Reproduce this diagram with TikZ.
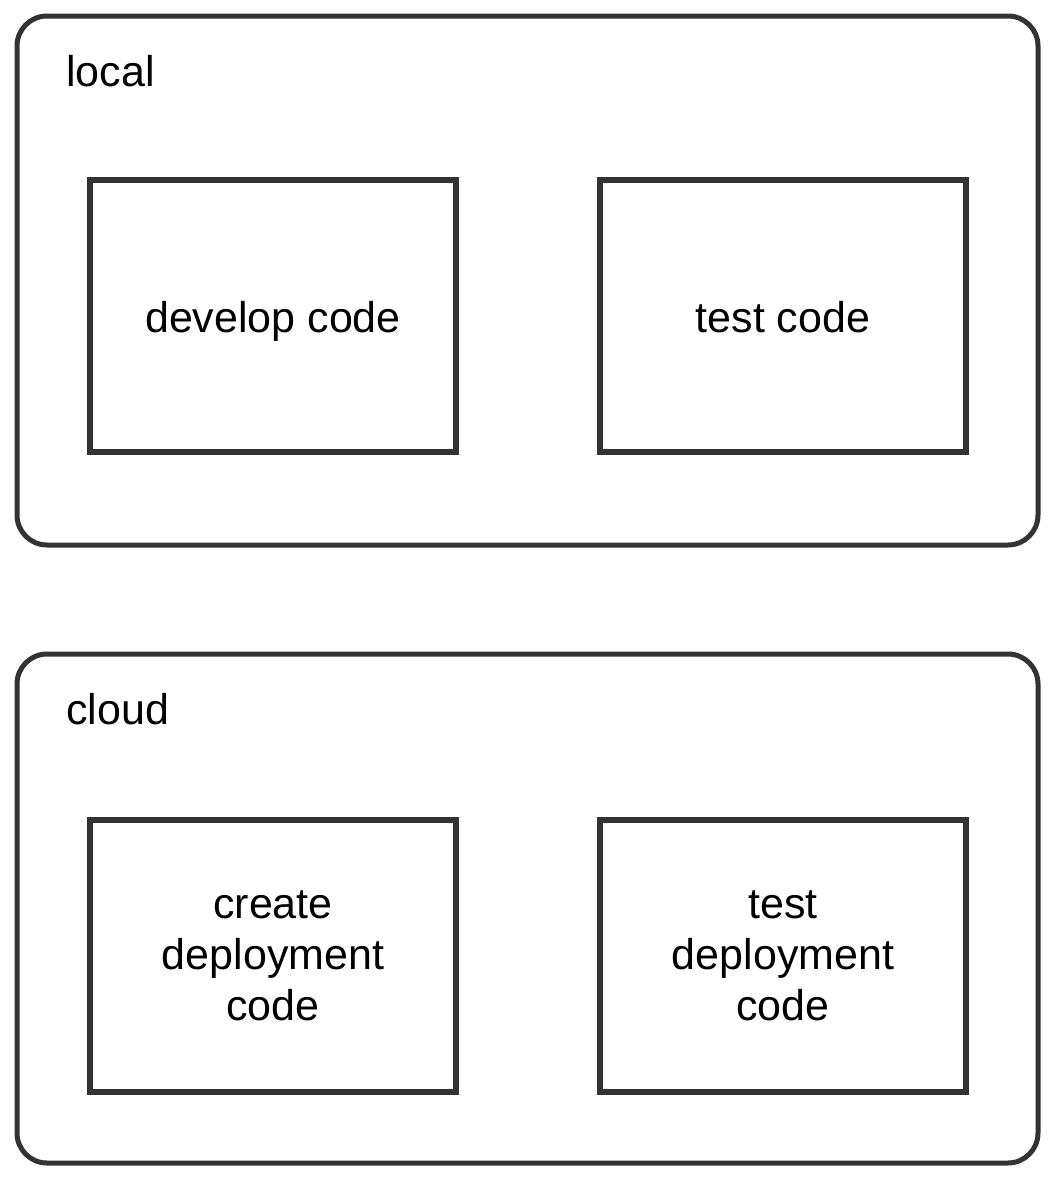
\documentclass[tikz,border=0pt]{standalone}
\usepackage{fontspec}
\setmainfont{Liberation Sans}
\usepackage{tikz}
\usetikzlibrary{positioning}
\definecolor{linegray}{HTML}{333333}

\begin{document}
\begin{tikzpicture}[x=1pt, y=-1pt,
    groupbox/.style = {draw = linegray, line width = 5pt, rounded corners = 30pt, minimum width = 1021pt, inner sep=0pt},
    grouplabel/.style = {anchor = base west, inner sep=0pt, font = \fontsize{43}{51}\selectfont},
    taskbox/.style = {draw = linegray, line width = 6pt, minimum width = 366pt, minimum height = 272pt, inner sep=0pt, align = center, font = \fontsize{43}{51}\selectfont}]
            \useasboundingbox (0,0) rectangle (1056,1184);

            \node at (527.5,280.5) [groupbox, minimum height = 529pt] (local) {};
            \node at (527.5,908.5) [groupbox, minimum height = 509pt] (cloud) {};
            \node at (66,86) [grouplabel] (locallabel) {local};
            \node at (66,724) [grouplabel] (cloudlabel) {cloud};

            \node at (273,316) [taskbox, text height = 40pt, text depth = 8pt] (develop) {develop code};
            \node at (783,316) [taskbox, text height = 40pt, text depth = 8pt] (test) {test code};

            \node at (273,956) [taskbox] (create) {create\\deployment\\code};
            \node at (783,956) [taskbox] (testdeploy) {test\\deployment\\code};
          \end{tikzpicture}
\end{document}
